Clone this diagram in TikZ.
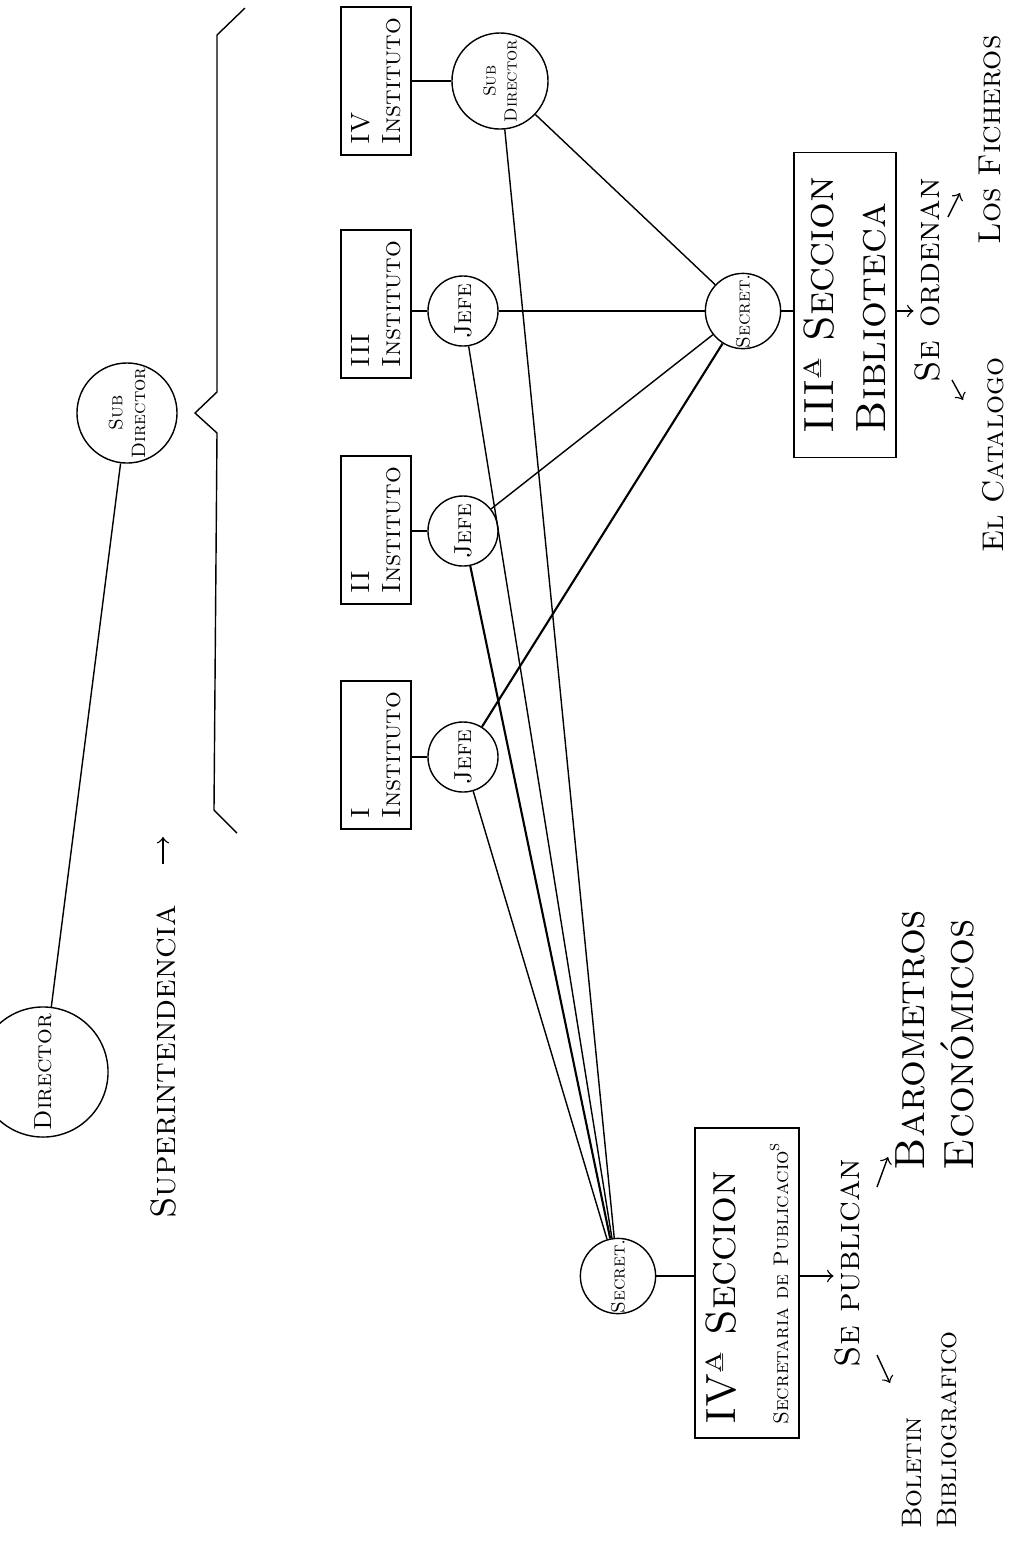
\documentclass[tikz,border=0pt]{standalone}
\begin{document}
\begin{tikzpicture}[x=0.01cm,y=-0.01cm]
\tikzstyle{every node}+=[inner sep=0pt, rotate=90]
\tikzstyle{circ}=[draw=black, circle, align=center, font=\scshape\fontsize{5.5}{6.5}\selectfont]
\tikzstyle{inst}=[draw=black, rectangle, minimum width=1.48cm, minimum height=0.70cm, align=left, font=\scshape\fontsize{7.5}{9}\selectfont]
\tikzstyle{secc}=[draw=black, rectangle, align=left, font=\scshape\fontsize{12}{15}\selectfont]
\tikzstyle{note}=[align=left, font=\scshape\fontsize{10}{12}\selectfont]
\useasboundingbox (0,0) rectangle (1022,1544);
% director, sub director and the brace
\node [circ, minimum size=1.3cm, font=\scshape\fontsize{7}{8}\selectfont] (dir) at (43,1072) {Director};
\node [circ, minimum size=1.0cm] (sub) at (127,413) {Sub\\Director};
\draw [black] (dir) -- (sub);
\draw [black] (245,8) -- (217,35) -- (217,392) -- (195,413) -- (217,433) -- (214,810) -- (237,833);
\node [note] (sup) at (163,1062) {Superintendencia};
\coordinate (supend) at (163,837);
\draw [black, ->, shorten <=0.4cm] (sup) -- (supend);
% institutos
\node [inst] (i4) at (376,81) {IV\\Instituto};
\node [inst] (i3) at (376,304) {III\\Instituto};
\node [inst] (i2) at (376,530) {II\\Instituto};
\node [inst] (i1) at (376,755) {I\\Instituto};
\node [circ, minimum size=0.96cm, font=\scshape\fontsize{5}{6}\selectfont] (sub4) at (500,81) {Sub\\Director};
\node [circ, minimum size=0.7cm, font=\scshape\fontsize{7}{8}\selectfont] (j3) at (463,311) {Jefe};
\node [circ, minimum size=0.7cm, font=\scshape\fontsize{7}{8}\selectfont] (j2) at (463,531) {Jefe};
\node [circ, minimum size=0.7cm, font=\scshape\fontsize{7}{8}\selectfont] (j1) at (463,757) {Jefe};
\draw [black] (i4) -- (sub4);
\draw [black] (j3) -- (j3 -| i3.south);
\draw [black] (j2) -- (j2 -| i2.south);
\draw [black] (j1) -- (j1 -| i1.south);
% III seccion
\node [circ, minimum size=0.7cm] (s3) at (743,311) {Secret.};
\node [secc, minimum width=3.05cm, minimum height=1.02cm] (b3) at (845,305) {IIIª Seccion\\Biblioteca};
\draw [black] (s3) -- (s3 -| b3.north);
\node [note] (ord) at (927,280) {Se ordenan};
\node [note, font=\scshape\fontsize{8.5}{10}\selectfont] (cat) at (993,455) {El Catalogo};
\node [note, font=\scshape\fontsize{9}{10}\selectfont] (fich) at (990,140) {Los Ficheros};
\draw [black, ->] (s3 -| b3.south) -- (s3 -| ord.north);
\coordinate (tocat) at (952,380);
\coordinate (tofich) at (948,217);
\draw [black, ->] (tocat) -- ++(11,20);
\draw [black, ->] (tofich) -- ++(12,-24);
% IV seccion
\node [circ, minimum size=0.7cm] (s4) at (618,1276) {Secret.};
\node [secc, minimum width=3.10cm, minimum height=1.04cm] (b4) at (747,1283) {IVª Seccion\\{\fontsize{6}{7}\selectfont Secretaria de Publicacio\textsuperscript{s}}};
\draw [black] (s4) -- (s4 -| b4.north);
\node [note] (pub) at (847,1263) {Se publican};
\node [note, font=\scshape\fontsize{12}{14}\selectfont] (bar) at (935,1040) {Barometros\\Económicos};
\node [note, font=\scshape\fontsize{8}{10}\selectfont] (bol) at (930,1430) {Boletin\\Bibliografico};
\draw [black, ->] (s4 -| b4.south) -- (s4 -| pub.north);
\coordinate (tobar) at (877,1187);
\coordinate (tobol) at (877,1355);
\draw [black, ->] (tobar) -- ++(11,-30);
\draw [black, ->] (tobol) -- ++(13,28);
% secretarios to jefes
\draw [black] (s3) -- (sub4);
\draw [black] (s3) -- (j3);
\draw [black] (s3) -- (j2);
\draw [black, semithick] (s3) -- (j1);
\draw [black] (s4) -- (sub4);
\draw [black] (s4) -- (j3);
\draw [black, semithick] (s4) -- (j2);
\draw [black] (s4) -- (j1);
\end{tikzpicture}
\end{document}
